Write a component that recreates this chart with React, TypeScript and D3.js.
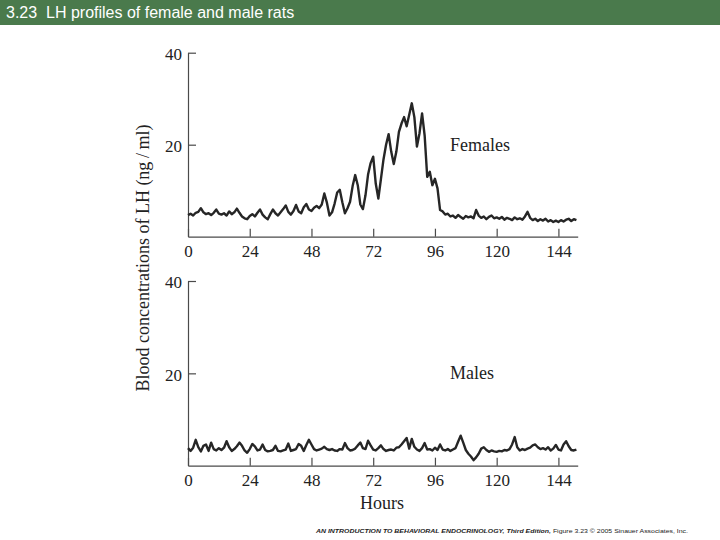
import React, { useEffect, useRef } from 'react';
import * as d3 from 'd3';

// LH readings (ng/ml), one per hour from hour 0 to hour 151
const femaleLH = [
  4.7, 5.0, 4.6, 5.2, 5.4, 6.2, 5.3, 4.9, 5.1, 4.7, 5.2, 5.9, 5.0, 4.8, 5.1, 4.6,
  5.5, 4.9, 5.3, 6.1, 5.2, 4.4, 4.0, 3.8, 4.5, 4.9, 4.4, 5.2, 5.9, 4.8, 4.2, 3.8,
  4.9, 5.9, 5.1, 4.6, 5.3, 6.0, 6.8, 5.4, 4.8, 5.6, 6.9, 5.5, 5.1, 6.4, 7.1, 5.9,
  5.6, 6.3, 6.7, 6.2, 7.0, 9.4, 7.4, 4.6, 5.3, 7.2, 9.6, 10.2, 7.5, 5.1, 6.2, 7.6,
  11.0, 13.4, 11.2, 7.0, 6.0, 9.0, 13.5, 16.0, 17.4, 11.5, 8.3, 12.5, 16.8, 20.0, 22.3, 18.5,
  15.8, 18.5, 22.8, 24.6, 26.0, 24.0, 26.5, 29.0, 26.0, 19.6, 22.5, 26.8, 22.0, 13.0, 14.1, 11.2,
  12.6, 10.5, 5.8, 5.5, 4.8, 5.0, 4.4, 4.6, 4.1, 4.7, 4.3, 3.9, 4.5, 4.2, 4.4, 4.0,
  5.8, 4.6, 4.1, 4.4, 3.8, 4.3, 4.6, 4.0, 4.2, 3.9, 4.3, 3.7, 4.1, 3.9, 3.6, 4.2,
  3.8, 4.0, 3.7, 4.4, 5.4, 4.1, 3.6, 3.9, 3.4, 3.8, 3.5, 3.9, 3.3, 3.6, 3.2, 3.5,
  3.2, 3.6, 3.3, 3.7, 3.9, 3.4, 3.8, 3.6,
];

const maleLH = [
  3.8, 3.2, 3.9, 5.6, 4.0, 3.1, 4.3, 4.6, 3.2, 5.0, 3.6, 3.3, 3.8, 3.4, 3.9, 5.3,
  4.0, 3.2, 3.6, 4.2, 5.0, 4.3, 3.3, 2.8, 3.6, 4.7, 4.2, 3.3, 3.5, 4.6, 3.4, 3.1,
  3.2, 3.4, 4.3, 3.2, 3.1, 3.3, 3.5, 4.8, 3.2, 3.4, 3.6, 4.7, 4.3, 3.2, 4.5, 5.6,
  4.6, 3.6, 3.3, 3.5, 3.7, 4.1, 3.6, 3.4, 3.6, 3.3, 3.2, 3.6, 3.5, 4.9, 3.8, 3.3,
  3.4, 3.7, 4.4, 5.0, 3.8, 3.6, 5.4, 4.4, 3.5, 3.3, 3.8, 4.4, 3.6, 3.2, 3.4, 3.5,
  3.3, 3.9, 4.0, 4.6, 5.3, 6.0, 3.7, 5.8, 4.1, 3.5, 3.2, 3.8, 4.9, 3.5, 3.6, 3.3,
  3.9, 3.4, 4.6, 3.5, 3.3, 3.6, 3.2, 3.5, 3.8, 5.2, 6.5, 5.0, 3.4, 2.6, 2.0, 1.2,
  1.8, 2.6, 3.7, 4.0, 3.4, 3.0, 3.3, 3.1, 3.0, 3.2, 3.1, 3.4, 3.3, 3.6, 4.6, 6.2,
  4.0, 3.3, 3.6, 3.4, 3.7, 3.9, 4.4, 4.6, 4.0, 3.6, 3.8, 3.5, 4.0, 3.3, 3.7, 4.5,
  3.5, 3.3, 4.6, 5.3, 4.2, 3.4, 3.3, 3.5,
];

const hourTicks = [0, 24, 48, 72, 96, 120, 144];
const lhTicks = [20, 40];

const serif = '"Liberation Serif", "Times New Roman", serif';
const sans = '"Liberation Sans", Arial, sans-serif';

const App = () => {
  const svgRef = useRef<SVGSVGElement>(null);

  useEffect(() => {
    const svg = d3.select(svgRef.current);
    svg.selectAll('*').remove();

    const width = 720;

    // Header bar
    svg.append('rect').attr('x', 0).attr('y', 0).attr('width', width).attr('height', 25).attr('fill', '#4a7a4c');
    svg.append('text')
      .attr('x', 6).attr('y', 18)
      .attr('fill', '#ffffff')
      .style('font-family', sans)
      .style('font-size', '16px')
      .text('3.23\u00a0\u00a0LH profiles of female and male rats');

    const x = d3.scaleLinear().domain([0, 151.5]).range([188, 577.7]);

    const drawPanel = (values: number[], label: string, yBottom: number, yTop: number) => {
      const y = d3.scaleLinear().domain([0, 40]).range([yBottom, yTop]);
      const g = svg.append('g');

      const xAxis = d3.axisBottom(x).tickValues(hourTicks).tickSize(-8).tickSizeOuter(0).tickPadding(8);
      const gx = g.append('g').attr('transform', `translate(0,${yBottom})`).call(xAxis);

      const yAxis = d3.axisLeft(y).tickValues(lhTicks).tickSize(-8).tickSizeOuter(0).tickPadding(6);
      const gy = g.append('g').attr('transform', `translate(${x(0)},0)`).call(yAxis);

      [gx, gy].forEach(a => {
        a.select('.domain').attr('stroke', '#4a4a4a').attr('stroke-width', 1.2);
        a.selectAll('.tick line').attr('stroke', '#4a4a4a').attr('stroke-width', 1.2);
        a.selectAll('.tick text')
          .attr('fill', '#222')
          .style('font-family', serif)
          .style('font-size', '17px');
      });
      gy.selectAll('.tick text').attr('dy', '0.4em');

      const line = d3.line<number>()
        .x((_, i) => x(i))
        .y(d => y(d));

      g.append('path')
        .datum(values)
        .attr('d', line)
        .attr('fill', 'none')
        .attr('stroke', '#262626')
        .attr('stroke-width', 2.4)
        .attr('stroke-linejoin', 'round');

      g.append('text')
        .attr('x', 450)
        .attr('y', y(18.7))
        .attr('fill', '#222')
        .style('font-family', serif)
        .style('font-size', '18px')
        .text(label);
    };

    drawPanel(femaleLH, 'Females', 236.7, 52.7);
    drawPanel(maleLH, 'Males', 465.7, 281);

    // Shared axis titles
    svg.append('text')
      .attr('transform', 'translate(149,258) rotate(-90)')
      .attr('text-anchor', 'middle')
      .attr('fill', '#222')
      .style('font-family', serif)
      .style('font-size', '18px')
      .text('Blood concentrations of LH (ng\u2009/\u2009ml)');

    svg.append('text')
      .attr('x', 382).attr('y', 509)
      .attr('text-anchor', 'middle')
      .attr('fill', '#222')
      .style('font-family', serif)
      .style('font-size', '18px')
      .text('Hours');

    // Source line
    const credit = svg.append('text')
      .attr('x', 316).attr('y', 533)
      .attr('textLength', 372)
      .attr('lengthAdjust', 'spacingAndGlyphs')
      .attr('fill', '#222')
      .style('font-family', sans)
      .style('font-size', '6px');
    credit.append('tspan')
      .style('font-weight', 'bold')
      .style('font-style', 'italic')
      .text('AN INTRODUCTION TO BEHAVIORAL ENDOCRINOLOGY, Third Edition,');
    credit.append('tspan').text(' Figure 3.23  \u00a9 2005 Sinauer Associates, Inc.');
  }, []);

  return (
    <div style={{ position: 'absolute', left: 0, top: 0, width: 720, height: 540, background: '#fff' }}>
      <svg ref={svgRef} width={720} height={540}></svg>
    </div>
  );
};

export default App;
